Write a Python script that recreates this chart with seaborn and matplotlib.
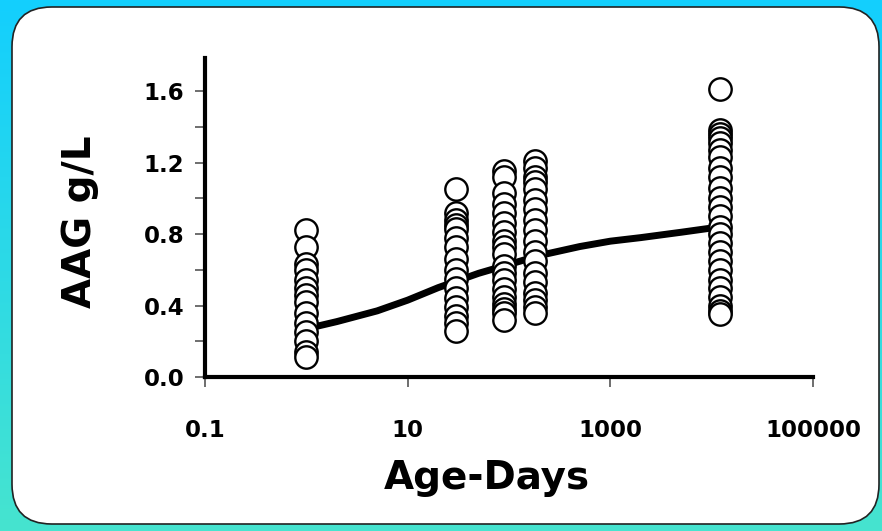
import numpy as np
import pandas as pd
import matplotlib
matplotlib.use("Agg")
import matplotlib.pyplot as plt
from matplotlib.patches import FancyBboxPatch
from matplotlib.ticker import FixedLocator, FixedFormatter, NullLocator
import seaborn as sns

# Age groups (days) and measured AAG concentrations (g/L)
age_days = [1, 30, 90, 180, 12000]
aag_day1 = [0.82, 0.73, 0.63, 0.60, 0.54, 0.50, 0.46, 0.42, 0.36, 0.30, 0.25, 0.20, 0.14, 0.11]
aag_day30 = [1.05, 0.92, 0.88, 0.85, 0.83, 0.78, 0.73, 0.66, 0.60, 0.55, 0.50, 0.44, 0.39, 0.34, 0.30, 0.26]
aag_day90 = [1.15, 1.12, 1.03, 0.97, 0.92, 0.86, 0.81, 0.76, 0.73, 0.69, 0.62, 0.58, 0.54, 0.49, 0.45, 0.41, 0.38, 0.36, 0.32]
aag_day180 = [1.21, 1.17, 1.12, 1.09, 1.05, 0.99, 0.94, 0.88, 0.82, 0.76, 0.70, 0.65, 0.58, 0.53, 0.47, 0.43, 0.39, 0.36]
aag_adult = [1.61, 1.38, 1.36, 1.34, 1.31, 1.27, 1.23, 1.17, 1.12, 1.06, 1.00, 0.95, 0.90, 0.84, 0.80, 0.75,
             0.70, 0.65, 0.60, 0.54, 0.50, 0.45, 0.40, 0.37, 0.35]

# Fitted trend of AAG against age
fit_age = [1, 2, 5, 10, 20, 50, 100, 200, 500, 1000, 2000, 5000, 12000]
fit_aag = [0.27, 0.31, 0.37, 0.43, 0.50, 0.58, 0.63, 0.68, 0.73, 0.76, 0.78, 0.81, 0.84]

x_ticks = [0.1, 10, 1000, 100000]
x_tick_labels = ["0.1", "10", "1000", "100000"]
y_ticks = [0.0, 0.4, 0.8, 1.2, 1.6]
y_tick_labels = ["0.0", "0.4", "0.8", "1.2", "1.6"]
y_minor = [0.2, 0.6, 1.0, 1.4]

groups = [aag_day1, aag_day30, aag_day90, aag_day180, aag_adult]
df = pd.DataFrame({
    "age": np.concatenate([[a] * len(g) for a, g in zip(age_days, groups)]),
    "aag": np.concatenate(groups),
})
fit_df = pd.DataFrame({"age": fit_age, "aag": fit_aag})

sns.set_style("ticks")
plt.rcParams["font.family"] = ["DejaVu Sans"]
plt.rcParams["text.color"] = "black"
plt.rcParams["axes.labelcolor"] = "black"
plt.rcParams["xtick.labelcolor"] = "black"
plt.rcParams["ytick.labelcolor"] = "black"

W, H = 882, 531
fig = plt.figure(figsize=(W / 100, H / 100), dpi=100)

# Gradient backdrop and rounded white panel
bg = fig.add_axes([0, 0, 1, 1], zorder=-10)
top = np.array([0x13, 0xCF, 0xFE]) / 255
bot = np.array([0x46, 0xE4, 0xCF]) / 255
t = np.linspace(0, 1, 256)[:, None, None]
grad = top * (1 - t) + bot * t
grad = np.repeat(grad, 2, axis=1)
bg.imshow(grad, aspect="auto", extent=[0, 1, 0, 1], origin="upper")
bg.set_xlim(0, 1)
bg.set_ylim(0, 1)
bg.axis("off")
panel = FancyBboxPatch((12 / W, 7 / H), (879 - 12) / W, (524 - 7) / H,
                       boxstyle="round,pad=0,rounding_size=0.045",
                       transform=bg.transAxes, facecolor="white",
                       edgecolor="#222222", linewidth=1.2, mutation_aspect=W / H)
bg.add_patch(panel)

ax = fig.add_axes([205 / W, 1 - 377 / H, (813 - 205) / W, (377 - 58) / H])
ax.set_facecolor("none")

sns.lineplot(data=fit_df, x="age", y="aag", ax=ax, color="black", linewidth=5,
             zorder=2, legend=False)
sns.scatterplot(data=df, x="age", y="aag", ax=ax, s=260, facecolor="white",
                edgecolor="black", linewidth=1.7, zorder=3, legend=False)

ax.set_xscale("log")
ax.set_xlim(0.1, 100000)
ax.set_ylim(0, 1.785)

ax.xaxis.set_major_locator(FixedLocator(x_ticks))
ax.xaxis.set_major_formatter(FixedFormatter(x_tick_labels))
ax.xaxis.set_minor_locator(NullLocator())
ax.yaxis.set_major_locator(FixedLocator(y_ticks))
ax.yaxis.set_major_formatter(FixedFormatter(y_tick_labels))
ax.yaxis.set_minor_locator(FixedLocator(y_minor))

for side in ["top", "right"]:
    ax.spines[side].set_visible(False)
for side in ["left", "bottom"]:
    ax.spines[side].set_linewidth(3)
    ax.spines[side].set_color("black")

ax.tick_params(axis="both", which="both", direction="out", length=7, width=1.2,
               color="#555555")
ax.tick_params(axis="x", labelsize=16.5, pad=23)
ax.tick_params(axis="y", labelsize=16.5, pad=8)
for lbl in ax.get_xticklabels() + ax.get_yticklabels():
    lbl.set_fontweight("bold")

ax.set_xlabel("Age-Days", fontsize=28, fontweight="bold")
ax.xaxis.set_label_coords((487 - 205) / 608, (377 - 478) / 319)
ax.xaxis.label.set_va("center")
ax.set_ylabel("AAG g/L", fontsize=28, fontweight="bold")
ax.yaxis.set_label_coords((80 - 205) / 608, (377 - 222) / 319)
ax.yaxis.label.set_va("center")

fig.savefig("out.png", dpi=100)
